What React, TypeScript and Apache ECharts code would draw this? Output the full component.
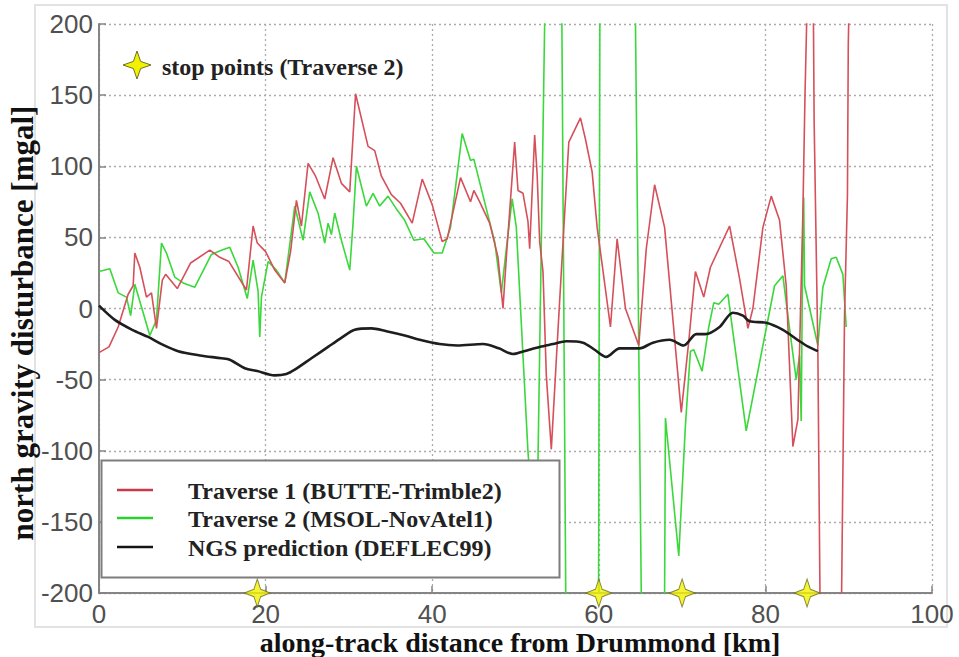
import React, { useEffect, useRef } from "react";
import * as echarts from "echarts";

// NGS prediction (DEFLEC99)
const ngsKm = [0, 1.9, 4, 5.9, 7.5, 9.5, 12.1, 14.7, 15.7, 17.5, 19, 21.1, 22.5, 23.5, 25.5, 27.5, 29, 30.7, 32.7, 34.5, 36.7, 38.5, 40.9, 43, 46.1, 48, 49.7, 51, 52.9, 54.5, 56.1, 58.1, 59.5, 60.9, 62.5, 64.9, 66.5, 68.5, 70.2, 71.7, 72.8, 74.5, 76.1, 77.3, 78.1, 80.1, 82.1, 84.1, 85.2, 86.3];
const ngsMgal = [2, -8, -15, -20, -25, -30, -33, -35, -36, -42, -44, -47, -46, -43, -35, -27, -21, -15, -14, -16, -19, -22, -25, -26, -25, -28, -32, -30, -27, -25, -23, -24, -29, -34, -28, -28, -24, -22, -26, -18, -18, -13, -3, -5, -9, -10, -15, -23, -27, -30];

// Traverse 1 (BUTTE-Trimble2)
const t1Km = [0, 1.2, 2.3, 3.5, 4.1, 4.3, 4.9, 5.7, 6.3, 6.9, 7.6, 8.0, 9.4, 11.0, 13.3, 14.5, 15.6, 17.7, 18.5, 19.0, 20.0, 21.1, 22.3, 23.0, 23.7, 24.3, 25.1, 26.0, 27.1, 28.1, 29.1, 30.1, 30.8, 32.3, 33.1, 33.9, 35.1, 36.2, 37.6, 38.8, 40.0, 41.2, 41.8, 43.4, 44.6, 45.0, 45.7, 46.9, 47.9, 48.5, 48.9, 49.9, 50.3, 50.9, 51.5, 51.7, 52.3, 52.6, 52.9, 53.3, 53.7, 54.3, 54.9, 55.6, 56.4, 57.8, 58.4, 59.2, 59.8, 60.4, 61.4, 62.2, 63.2, 64.8, 65.7, 66.7, 67.9, 69.9, 70.8, 71.6, 72.6, 73.4, 75.7, 76.9, 77.9, 78.5, 79.7, 80.7, 81.7, 82.5, 83.3, 83.9, 84.5, 84.75, 84.95, 85.1, 85.4, 85.7, 85.85, 86.3, 86.55, 86.75, 88.0, 89.0, 89.15, 89.5, 89.85, 89.95, 90.2];
const t1Mgal = [-31, -27, -13, 10, 16, 39, 29, 8, 11, -14, 20, 24, 14, 32, 41, 36, 33, 13, 58, 46, 40, 27, 18, 40, 76, 58, 102, 93, 77, 106, 88, 82, 151, 114, 111, 93, 80, 74, 60, 91, 73, 47, 49, 92, 75, 83, 75, 60, 36, 0, 36, 117, 83, 81, 61, 42, 122, 94, 47, 26, -47, -99, -36, 36, 117, 134, 119, 96, 57, 31, -13, 49, 0, -26, 42, 87, 57, -73, -23, 26, 8, 29, 58, 21, -14, 0, 57, 79, 62, 16, -97, -78, 67, 149, 200, 260, 300, 260, 132, -31, -200, -260, -300, -260, -200, -5, 80, 186, 260];

// Traverse 2 (MSOL-NovAtel1)
const t2Km = [0, 1.3, 2.3, 3.3, 3.8, 4.3, 5.1, 6.1, 6.9, 7.5, 8.1, 9.1, 10.1, 11.5, 13.5, 14.7, 15.7, 16.7, 17.8, 18.5, 19.1, 19.3, 19.5, 20.3, 21.3, 22.3, 23.5, 24.5, 25.3, 26.3, 27.1, 27.5, 27.9, 28.3, 29.1, 30.1, 30.5, 30.9, 32.1, 32.9, 33.7, 34.7, 35.7, 36.7, 37.8, 39.0, 40.2, 41.2, 42.2, 43.6, 44.6, 45.0, 46.5, 47.5, 48.3, 48.9, 49.6, 50.1, 51.5, 52.4, 52.7, 53.5, 53.7, 54.6, 55.5, 56.1, 58.0, 59.95, 60.15, 62.3, 64.3, 65.2, 66.5, 67.85, 68.0, 69.6, 70.4, 71.0, 71.4, 72.4, 73.2, 73.8, 74.4, 75.5, 75.9, 77.7, 79.7, 81.1, 82.1, 82.7, 83.7, 84.1, 84.3, 84.5, 84.6, 84.7, 86.3, 86.9, 87.9, 88.5, 89.3, 89.7];
const t2Mgal = [26, 28, 11, 8, -5, 17, 1, -19, -8, 46, 39, 22, 18, 15, 38, 41, 43, 29, 7, 34, 12, -20, 8, 33, 27, 18, 72, 48, 82, 67, 46, 60, 52, 67, 48, 27, 60, 100, 72, 81, 72, 79, 70, 62, 48, 49, 39, 39, 57, 123, 104, 105, 70, 47, 11, 42, 77, 57, -101, -170, -107, 200, 260, 330, 260, -260, -330, -260, 260, 330, 260, -260, -330, -260, -77, -174, -82, -30, -29, -44, -13, 4, 3, 10, -8, -86, -26, 16, 23, -5, -50, -33, -79, 62, 78, 16, -26, 15, 35, 36, 24, -13];

// stop points of Traverse 2 along the track
const stopKm = [19, 60, 70, 85];

const zip = (xs: number[], ys: number[]) => xs.map((x, i) => [x, ys[i]]);

const serif = '"Liberation Serif", "Times New Roman", serif';
const sans = '"Liberation Sans", Arial, sans-serif';
const starPath = "path://M0,-10 L2.6,-2.6 L10,0 L2.6,2.6 L0,10 L-2.6,2.6 L-10,0 L-2.6,-2.6 Z";

const star = (cx: number, cy: number, r: number, ri: number) => [
  [cx, cy - r], [cx + ri, cy - ri], [cx + r, cy], [cx + ri, cy + ri],
  [cx, cy + r], [cx - ri, cy + ri], [cx - r, cy], [cx - ri, cy - ri],
];

export default function App() {
  const ref = useRef<HTMLDivElement>(null);
  useEffect(() => {
    const chart = echarts.init(ref.current!, null, { renderer: "svg" });
    const axisCommon = {
      type: "value",
      axisLine: { show: true, onZero: false, lineStyle: { color: "#858585", width: 2 } },
      axisTick: { show: true, inside: true, length: 7, lineStyle: { color: "#858585", width: 1.5 } },
      splitLine: { show: true, lineStyle: { color: "#ababab", type: [2, 3], width: 1.3 } },
    };
    const legendRows = [
      { y: 490, color: "#c83a4a", text: "Traverse 1 (BUTTE-Trimble2)" },
      { y: 518, color: "#2bd12b", text: "Traverse 2 (MSOL-NovAtel1)" },
      { y: 547, color: "#141414", text: "NGS prediction (DEFLEC99)" },
    ];
    const graphics: any[] = [
      {
        type: "rect", z: 0, silent: true,
        shape: { x: 35, y: 5, width: 912, height: 622 },
        style: { fill: "none", stroke: "#e2e2e2", lineWidth: 2 },
      },
      {
        type: "rect", z: 100,
        shape: { x: 101.5, y: 460.5, width: 458, height: 117 },
        style: { fill: "#ffffff", stroke: "#7d7d7d", lineWidth: 2 },
      },
      ...legendRows.map((r) => ({
        type: "line", z: 101,
        shape: { x1: 117, y1: r.y, x2: 153, y2: r.y },
        style: { stroke: r.color, lineWidth: 2.6 },
      })),
      ...legendRows.map((r) => ({
        type: "text", z: 101, x: 188, y: r.y + 1,
        style: {
          text: r.text, fill: "#222", fontSize: 24, fontWeight: "bold",
          fontFamily: serif, align: "left", verticalAlign: "middle",
        },
      })),
      {
        type: "polygon", z: 101,
        shape: { points: star(137, 65, 14, 3.6) },
        style: { fill: "#f2f200", stroke: "#6e6e2a", lineWidth: 1 },
      },
      {
        type: "text", z: 101, x: 162, y: 67,
        style: {
          text: "stop points (Traverse 2)", fill: "#222", fontSize: 24, fontWeight: "bold",
          fontFamily: serif, align: "left", verticalAlign: "middle",
        },
      },
      {
        type: "text", z: 101, x: 520, y: 642,
        style: {
          text: "along-track distance from Drummond [km]", fill: "#111", fontSize: 28,
          fontWeight: "bold", fontFamily: serif, align: "center", verticalAlign: "middle",
        },
      },
      {
        type: "text", z: 101, x: 22, y: 323, rotation: Math.PI / 2,
        style: {
          text: "north gravity disturbance [mgal]", fill: "#111", fontSize: 31,
          fontWeight: "bold", fontFamily: serif, align: "center", verticalAlign: "middle",
        },
      },
    ];

    chart.setOption({
      animation: false,
      backgroundColor: "#ffffff",
      grid: { left: 99, top: 24, width: 833, height: 569, containLabel: false },
      xAxis: {
        ...axisCommon,
        min: 0, max: 100, interval: 20,
        axisLabel: { color: "#505050", fontSize: 26, fontFamily: sans, margin: 8 },
      },
      yAxis: {
        ...axisCommon,
        min: -200, max: 200, interval: 50,
        axisLabel: { color: "#505050", fontSize: 26, fontFamily: sans, margin: 6 },
      },
      series: [
        {
          type: "line", name: "Traverse 2 (MSOL-NovAtel1)", data: zip(t2Km, t2Mgal),
          symbol: "none", showSymbol: false, clip: true, z: 3,
          lineStyle: { color: "#3ad83a", width: 1.6 },
        },
        {
          type: "line", name: "Traverse 1 (BUTTE-Trimble2)", data: zip(t1Km, t1Mgal),
          symbol: "none", showSymbol: false, clip: true, z: 4,
          lineStyle: { color: "#d5505a", width: 1.6 },
        },
        {
          type: "line", name: "NGS prediction (DEFLEC99)", data: zip(ngsKm, ngsMgal),
          symbol: "none", showSymbol: false, clip: true, z: 5, smooth: 0.3,
          lineStyle: { color: "#1e1e1e", width: 2.6 },
        },
        {
          type: "scatter", name: "stop points (Traverse 2)",
          data: stopKm.map((k) => [k, -200]),
          symbol: starPath, symbolSize: [26, 28], clip: false, z: 10,
          itemStyle: { color: "#f2f200", borderColor: "#6e6e2a", borderWidth: 1 },
        },
      ],
      graphic: graphics,
    });
    return () => chart.dispose();
  }, []);
  return (
    <div
      ref={ref}
      style={{ position: "fixed", left: 0, top: 0, width: 959, height: 657, background: "#fff" }}
    />
  );
}
